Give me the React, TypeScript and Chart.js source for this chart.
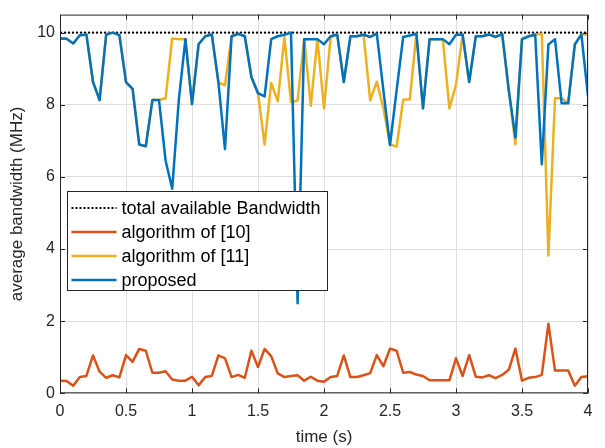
import { useEffect, useRef } from "react";
import { Chart, registerables } from "chart.js";
Chart.register(...registerables);

const times = [
  0.0, 0.05, 0.1, 0.15, 0.2, 0.25, 0.3, 0.35, 0.4, 0.45,
  0.5, 0.55, 0.6, 0.65, 0.7, 0.75, 0.8, 0.85, 0.9, 0.95,
  1.0, 1.05, 1.1, 1.15, 1.2, 1.25, 1.3, 1.35, 1.4, 1.45,
  1.5, 1.55, 1.6, 1.65, 1.7, 1.75, 1.8, 1.85, 1.9, 1.95,
  2.0, 2.05, 2.1, 2.15, 2.2, 2.25, 2.3, 2.35, 2.4, 2.45,
  2.5, 2.55, 2.6, 2.65, 2.7, 2.75, 2.8, 2.85, 2.9, 2.95,
  3.0, 3.05, 3.1, 3.15, 3.2, 3.25, 3.3, 3.35, 3.4, 3.45,
  3.5, 3.55, 3.6, 3.65, 3.7, 3.75, 3.8, 3.85, 3.9, 3.95,
  4.0,
];

const totalTimes = [0, 4];
const totalBandwidth = [10, 10];

const algo10 = [
  0.35, 0.34, 0.21, 0.45, 0.48, 1.05, 0.6, 0.43, 0.5, 0.44,
  1.06, 0.87, 1.23, 1.18, 0.57, 0.57, 0.61, 0.38, 0.35, 0.35,
  0.46, 0.22, 0.45, 0.48, 1.05, 0.97, 0.45, 0.51, 0.43, 1.18,
  0.73, 1.23, 1.03, 0.55, 0.45, 0.48, 0.5, 0.35, 0.46, 0.35,
  0.32, 0.45, 0.48, 1.05, 0.45, 0.45, 0.5, 0.56, 1.06, 0.75,
  1.24, 1.18, 0.57, 0.59, 0.52, 0.48, 0.36, 0.36, 0.36, 0.36,
  0.97, 0.48, 1.06, 0.46, 0.44, 0.5, 0.42, 0.51, 0.65, 1.24,
  0.35, 0.43, 0.45, 0.51, 1.93, 0.63, 0.63, 0.63, 0.21, 0.45,
  0.47,
];

const algo11 = [
  9.84, 9.83, 9.7, 9.93, 9.95, 8.63, 8.13, 9.95, 10.0, 9.93,
  8.63, 8.44, 6.9, 6.85, 8.13, 8.13, 8.18, 9.84, 9.82, 9.82,
  8.02, 9.68, 9.9, 9.95, 8.62, 8.54, 9.9, 9.97, 9.9, 8.77,
  8.32, 6.9, 8.6, 8.1, 9.87, 8.07, 8.12, 9.82, 7.97, 9.82,
  7.9, 9.87, 9.95, 8.63, 9.9, 9.9, 9.94, 8.12, 8.64, 7.9,
  6.9, 6.84, 8.14, 8.15, 9.97, 7.9, 9.82, 9.82, 9.82, 7.9,
  8.55, 9.95, 8.63, 9.9, 9.9, 9.95, 9.88, 9.96, 8.4, 6.9,
  9.82, 9.9, 9.94, 9.97, 3.82, 8.18, 8.18, 8.04, 9.67, 9.95,
  9.95,
];

const proposed = [
  9.84, 9.83, 9.7, 9.93, 9.95, 8.63, 8.13, 9.95, 10.0, 9.93,
  8.63, 8.44, 6.9, 6.85, 8.13, 8.13, 6.45, 5.67, 8.13, 9.82,
  8.02, 9.68, 9.9, 9.95, 8.62, 6.77, 9.9, 9.97, 9.9, 8.77,
  8.32, 8.23, 9.82, 9.9, 9.94, 10.0, 2.5, 9.82, 9.82, 9.82,
  9.68, 9.9, 9.95, 8.63, 9.9, 9.9, 9.94, 9.88, 9.97, 8.4,
  6.88, 8.4, 9.88, 9.92, 9.97, 7.9, 9.82, 9.82, 9.82, 9.68,
  9.94, 9.95, 8.63, 9.9, 9.9, 9.95, 9.88, 9.96, 8.4, 7.09,
  9.82, 9.9, 9.94, 6.35, 9.67, 9.82, 8.04, 8.04, 9.67, 9.95,
  8.23,
];

const xTicks = [0, 0.5, 1, 1.5, 2, 2.5, 3, 3.5, 4];
const yTicks = [0, 2, 4, 6, 8, 10];

const legendLabels = [
  "total available Bandwidth",
  "algorithm of [10]",
  "algorithm of [11]",
  "proposed",
];

const FONT = '"Liberation Sans", Arial, Helvetica, sans-serif';
const TEXT = "#262626";
const C_TOTAL = "#000000";
const C_A10 = "#D95319";
const C_A11 = "#EDB120";
const C_PROP = "#0072BD";

const pts = (xs: number[], ys: number[]) => xs.map((x, i) => ({ x, y: ys[i] }));

const framePlugin = {
  id: "frame",
  afterDatasetsDraw(chart: any) {
    const { ctx, chartArea: a, scales } = chart;
    const x = scales.x;
    const y = scales.y;
    ctx.save();
    ctx.strokeStyle = TEXT;
    ctx.lineWidth = 1;
    ctx.beginPath();
    ctx.rect(a.left + 0.5, a.top + 0.5, a.right - a.left - 1, a.bottom - a.top - 1);
    ctx.stroke();
    const L = 5;
    ctx.beginPath();
    for (const v of xTicks) {
      const px = Math.round(x.getPixelForValue(v)) + 0.5;
      ctx.moveTo(px, a.bottom);
      ctx.lineTo(px, a.bottom - L);
      ctx.moveTo(px, a.top);
      ctx.lineTo(px, a.top + L);
    }
    for (const v of yTicks) {
      const py = Math.round(y.getPixelForValue(v)) + 0.5;
      ctx.moveTo(a.left, py);
      ctx.lineTo(a.left + L, py);
      ctx.moveTo(a.right, py);
      ctx.lineTo(a.right - L, py);
    }
    ctx.stroke();
    ctx.restore();
  },
};

const legendStyles = [
  { color: C_TOTAL, dash: [2, 2], width: 2 },
  { color: C_A10, dash: [], width: 2.5 },
  { color: C_A11, dash: [], width: 2.5 },
  { color: C_PROP, dash: [], width: 2.5 },
];

const legendPlugin = {
  id: "boxLegend",
  afterDatasetsDraw(chart: any) {
    const { ctx } = chart;
    const bx = 67.5;
    const by = 191.5;
    const bw = 260;
    const bh = 99;
    ctx.save();
    ctx.fillStyle = "#ffffff";
    ctx.fillRect(bx, by, bw, bh);
    ctx.strokeStyle = TEXT;
    ctx.lineWidth = 1;
    ctx.strokeRect(bx, by, bw, bh);
    ctx.font = `18px ${FONT}`;
    ctx.textBaseline = "middle";
    ctx.textAlign = "left";
    legendLabels.forEach((label, i) => {
      const cy = by + 16.5 + i * 24;
      const st = legendStyles[i];
      ctx.beginPath();
      ctx.setLineDash(st.dash);
      ctx.strokeStyle = st.color;
      ctx.lineWidth = st.width;
      ctx.moveTo(bx + 4, cy);
      ctx.lineTo(bx + 49, cy);
      ctx.stroke();
      ctx.setLineDash([]);
      ctx.fillStyle = "#000000";
      ctx.fillText(label, bx + 54, cy + 1);
    });
    ctx.restore();
  },
};

export default function App() {
  const ref = useRef<HTMLCanvasElement>(null);

  useEffect(() => {
    document.body.style.margin = "0";
    document.body.style.overflow = "hidden";
    if (!ref.current) return;
    const tickFont = { family: FONT, size: 16 };
    const titleFont = { family: FONT, size: 17 };
    const chart = new Chart(ref.current, {
      type: "line",
      data: {
        datasets: [
          {
            label: legendLabels[3],
            data: pts(times, proposed),
            borderColor: C_PROP,
            borderWidth: 2.5,
          },
          {
            label: legendLabels[2],
            data: pts(times, algo11),
            borderColor: C_A11,
            borderWidth: 2.5,
          },
          {
            label: legendLabels[1],
            data: pts(times, algo10),
            borderColor: C_A10,
            borderWidth: 2.5,
          },
          {
            label: legendLabels[0],
            data: pts(totalTimes, totalBandwidth),
            borderColor: C_TOTAL,
            borderWidth: 2,
            borderDash: [2, 2],
          },
        ],
      },
      options: {
        animation: false,
        responsive: false,
        maintainAspectRatio: false,
        layout: { padding: { top: 8, right: 17, left: 0, bottom: 0 } },
        elements: {
          point: { radius: 0, hoverRadius: 0 },
          line: { tension: 0, borderJoinStyle: "round", borderCapStyle: "butt", fill: false },
        },
        plugins: {
          legend: { display: false },
          tooltip: { enabled: false },
        },
        scales: {
          x: {
            type: "linear",
            min: 0,
            max: 4,
            afterBuildTicks: (s: any) => {
              s.ticks = xTicks.map((v) => ({ value: v }));
            },
            afterFit: (s: any) => {
              s.height = 54.7;
            },
            ticks: {
              callback: (v: any) => String(v),
              font: tickFont,
              color: TEXT,
              padding: 9,
              maxRotation: 0,
              autoSkip: false,
            },
            grid: { color: "#dfdfdf", drawTicks: false, lineWidth: 1 },
            border: { display: false },
            title: {
              display: true,
              text: "time (s)",
              font: titleFont,
              color: TEXT,
              padding: { top: 0, bottom: 0 },
            },
          },
          y: {
            type: "linear",
            min: 0,
            max: 10.5,
            afterBuildTicks: (s: any) => {
              s.ticks = yTicks.map((v) => ({ value: v }));
            },
            afterFit: (s: any) => {
              s.width = 60;
            },
            ticks: {
              callback: (v: any) => String(v),
              font: tickFont,
              color: TEXT,
              padding: 5,
              autoSkip: false,
            },
            grid: { color: "#dfdfdf", drawTicks: false, lineWidth: 1 },
            border: { display: false },
            title: {
              display: true,
              text: "average bandwidth (MHz)",
              font: titleFont,
              color: TEXT,
              padding: { top: 7, bottom: 0 },
            },
          },
        },
      },
      plugins: [framePlugin, legendPlugin],
    } as any);
    return () => chart.destroy();
  }, []);

  return (
    <div style={{ width: 605, height: 448 }}>
      <canvas ref={ref} width={605} height={448} />
    </div>
  );
}
